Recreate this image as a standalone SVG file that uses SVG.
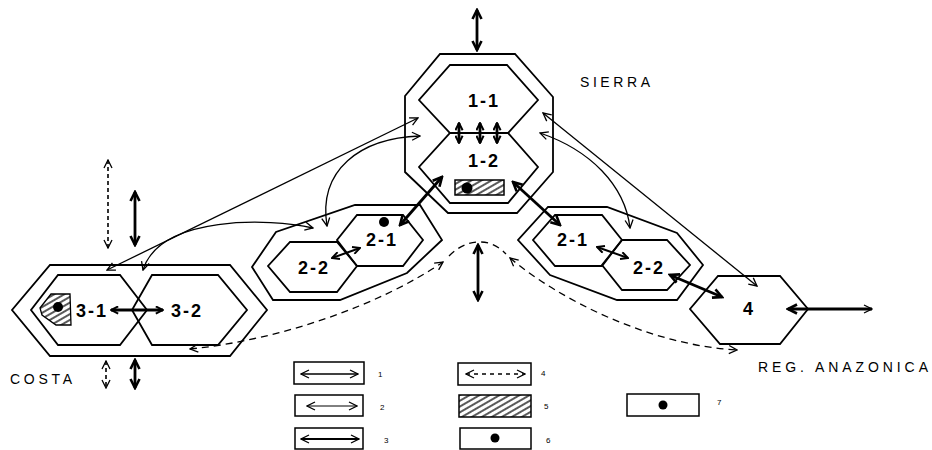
<svg xmlns="http://www.w3.org/2000/svg" width="932" height="450" viewBox="0 0 932 450">
<style>
.sh{fill:none;stroke:#000;stroke-width:1.8;stroke-linejoin:miter}
.th{fill:none;stroke:#000;stroke-width:1.3}
.bd{fill:none;stroke:#000;stroke-width:2.8}
.ds{fill:none;stroke:#000;stroke-width:1.3;stroke-dasharray:7 5}
.bx{fill:#fff;stroke:#000;stroke-width:1.5}
.lbl{font-family:"Liberation Sans",Arial,sans-serif;font-weight:bold;font-size:18px;text-anchor:middle;letter-spacing:2px}
.reg{font-family:"Liberation Sans",Arial,sans-serif;font-size:14px}
.lg{font-family:"Liberation Sans",Arial,sans-serif;font-size:8px}
</style>
<defs>
<marker id="mt" viewBox="0 0 10 10" refX="9" refY="5" markerWidth="10" markerHeight="10" markerUnits="userSpaceOnUse" orient="auto-start-reverse">
<path d="M1,1 L9,5 L1,9" fill="none" stroke="#000" stroke-width="1.3"/>
</marker>
<marker id="mb" viewBox="0 0 12 12" refX="10" refY="6" markerWidth="12" markerHeight="12" markerUnits="userSpaceOnUse" orient="auto-start-reverse">
<path d="M1,1.5 L10,6 L1,10.5" fill="none" stroke="#000" stroke-width="2.6"/>
</marker>
<marker id="ms" viewBox="0 0 10 10" refX="9" refY="5" markerWidth="9" markerHeight="9" markerUnits="userSpaceOnUse" orient="auto-start-reverse">
<path d="M1,1 L9,5 L1,9" fill="none" stroke="#000" stroke-width="2.2"/>
</marker>
<pattern id="hatch" width="8" height="5" patternUnits="userSpaceOnUse" patternTransform="rotate(-30)">
<line x1="0" y1="2" x2="8" y2="2" stroke="#000" stroke-width="1.3"/>
</pattern>
</defs>

<g id="sierra">
<polygon class="sh" points="440,54 515,54 553,97 553,172 517,213 448,213 405,172 405,96"/>
<polygon class="sh" points="450,65 507,65 538,100 508,133 450,133 419,100"/>
<polygon class="sh" points="450,133 508,133 538,167 508,203 450,203 419,167"/>
<text class="lbl" x="484" y="107">1-1</text>
<text class="lbl" x="484" y="167">1-2</text>
<rect x="455" y="180" width="49" height="15" fill="url(#hatch)" stroke="#000" stroke-width="1.5"/>
<circle cx="467" cy="188" r="5.5" fill="#000"/>
<text class="reg" x="580" y="87" textLength="70" lengthAdjust="spacing">SIERRA</text>
</g>

<g id="costa">
<polygon class="sh" points="50,265 230,265 267,310 230,356 50,356 12,310"/>
<polygon class="sh" points="58,275 120,275 147,310 120,345 58,345 31,310"/>
<polygon class="sh" points="152,275 218,275 247,310 218,345 152,345 132,310"/>
<polygon points="40,308 51,294 70,294 71,325 56,325 42,315" fill="url(#hatch)" stroke="#000" stroke-width="1.3"/>
<circle cx="58" cy="307" r="5" fill="#000"/>
<text class="lbl" x="92" y="317">3-1</text>
<text class="lbl" x="187" y="317">3-2</text>
<text class="reg" x="10" y="384" textLength="62" lengthAdjust="spacing">COSTA</text>
</g>

<g id="sierra-low-west">
<polygon class="sh" points="355,205 420,205 442,240 407,273 340,300 273,300 252,267 276,232"/>
<polygon class="sh" points="290,242 337,242 357,266 337,292 290,292 268,266"/>
<polygon class="sh" points="357,215 403,215 423,240 403,266 357,266 337,240"/>
<circle cx="384" cy="222" r="5" fill="#000"/>
<text class="lbl" x="382" y="246">2-1</text>
<text class="lbl" x="314" y="274">2-2</text>
</g>

<g id="sierra-low-east">
<polygon class="sh" points="548,207 607,207 677,233 703,265 677,300 617,300 550,275 518,240"/>
<polygon class="sh" points="555,215 602,215 622,240 602,266 555,266 533,240"/>
<polygon class="sh" points="622,240 667,240 690,265 667,290 622,290 602,265"/>
<text class="lbl" x="573" y="246">2-1</text>
<text class="lbl" x="649" y="274">2-2</text>
</g>

<g id="amazonia">
<polygon class="sh" points="718,276 780,276 808,309 780,344 720,344 690,309"/>
<text class="lbl" x="749" y="315">4</text>
<text class="reg" x="758" y="372" textLength="170" lengthAdjust="spacing">REG. ANAZONICA</text>
</g>

<g id="connectors">
<path class="th" d="M107,270 L418,118" marker-start="url(#mt)" marker-end="url(#mt)"/>
<path class="th" d="M420,136 C360,138 318,170 327,226" marker-start="url(#mt)" marker-end="url(#mt)"/>
<path class="th" d="M313,228 C270,218 160,215 143,270" marker-start="url(#mt)" marker-end="url(#mt)"/>
<path class="th" d="M543,113 L757,286" marker-start="url(#mt)" marker-end="url(#mt)"/>
<path class="th" d="M540,133 C590,150 625,185 630,228" marker-start="url(#mt)" marker-end="url(#mt)"/>
<path class="bd" d="M442,177 L400,225" marker-start="url(#mb)" marker-end="url(#mb)"/>
<path class="bd" d="M513,182 L560,225" marker-start="url(#mb)" marker-end="url(#mb)"/>
<path class="bd" d="M459,123 L459,143" marker-start="url(#ms)" marker-end="url(#ms)"/>
<path class="bd" d="M480,123 L480,143" marker-start="url(#ms)" marker-end="url(#ms)"/>
<path class="bd" d="M497,123 L497,143" marker-start="url(#ms)" marker-end="url(#ms)"/>
<path class="bd" d="M477,10 L477,50" marker-start="url(#mb)" marker-end="url(#mb)"/>
<path class="bd" style="stroke-width:2" d="M332,258 L360,248" marker-start="url(#ms)" marker-end="url(#ms)"/>
<path class="bd" style="stroke-width:2" d="M597,247 L628,258" marker-start="url(#ms)" marker-end="url(#ms)"/>
<path class="bd" d="M111,310 L163,310" marker-start="url(#ms)" marker-end="url(#ms)"/>
<path class="bd" d="M670,275 L722,297" marker-start="url(#mb)" marker-end="url(#mb)"/>
<path class="bd" d="M788,309 L872,309" marker-start="url(#mb)" marker-end="url(#mt)"/>
<path class="bd" d="M478,245 L478,300" marker-start="url(#mb)" marker-end="url(#mb)"/>
<path class="ds" style="stroke-dasharray:4 3;stroke-width:1.6" d="M108,160 L108,248" marker-start="url(#mt)" marker-end="url(#mt)"/>
<path class="bd" d="M135,192 L135,245" marker-start="url(#mb)" marker-end="url(#mb)"/>
<path class="ds" style="stroke-dasharray:4 3;stroke-width:1.6" d="M106,361 L106,388" marker-start="url(#mt)" marker-end="url(#mt)"/>
<path class="bd" d="M135,360 L135,388" marker-start="url(#mb)" marker-end="url(#mb)"/>
<path class="ds" d="M190,349 C280,340 380,305 443,262" marker-start="url(#mt)" marker-end="url(#mt)"/>
<path class="ds" d="M449,256 C458,247 468,242 480,242 C492,242 500,248 506,254"/>
<path class="ds" d="M510,258 C560,300 650,345 737,350" marker-start="url(#mt)" marker-end="url(#mt)"/>
</g>

<g id="legend">
<rect class="bx" x="294" y="362" width="70" height="22"/>
<path class="th" d="M301,374 L358,374" marker-start="url(#mt)" marker-end="url(#mt)"/>
<text class="lg" x="378" y="377">1</text>
<rect class="bx" x="295" y="395" width="68" height="21"/>
<path class="th" style="stroke-width:1" d="M307,406 L357,406" marker-start="url(#mt)" marker-end="url(#mt)"/>
<text class="lg" x="380" y="410">2</text>
<rect class="bx" x="295" y="428" width="68" height="21"/>
<path class="th" style="stroke-width:1.8" d="M301,439 L359,439" marker-start="url(#mt)" marker-end="url(#mt)"/>
<text class="lg" x="384" y="443">3</text>
<rect class="bx" x="458" y="363" width="73" height="22"/>
<path class="ds" style="stroke-dasharray:4 4" d="M466,374 L525,374" marker-start="url(#mt)" marker-end="url(#mt)"/>
<text class="lg" x="541" y="376">4</text>
<rect x="459" y="395" width="72" height="22" fill="url(#hatch)" stroke="#000" stroke-width="1.5"/>
<text class="lg" x="544" y="409">5</text>
<rect class="bx" x="460" y="428" width="71" height="21"/>
<circle cx="495" cy="438" r="4.5" fill="#000"/>
<text class="lg" x="546" y="443">6</text>
<rect class="bx" x="627" y="394" width="72" height="22"/>
<circle cx="663" cy="405" r="4.5" fill="#000"/>
<text class="lg" x="717" y="405">7</text>
</g>
</svg>
